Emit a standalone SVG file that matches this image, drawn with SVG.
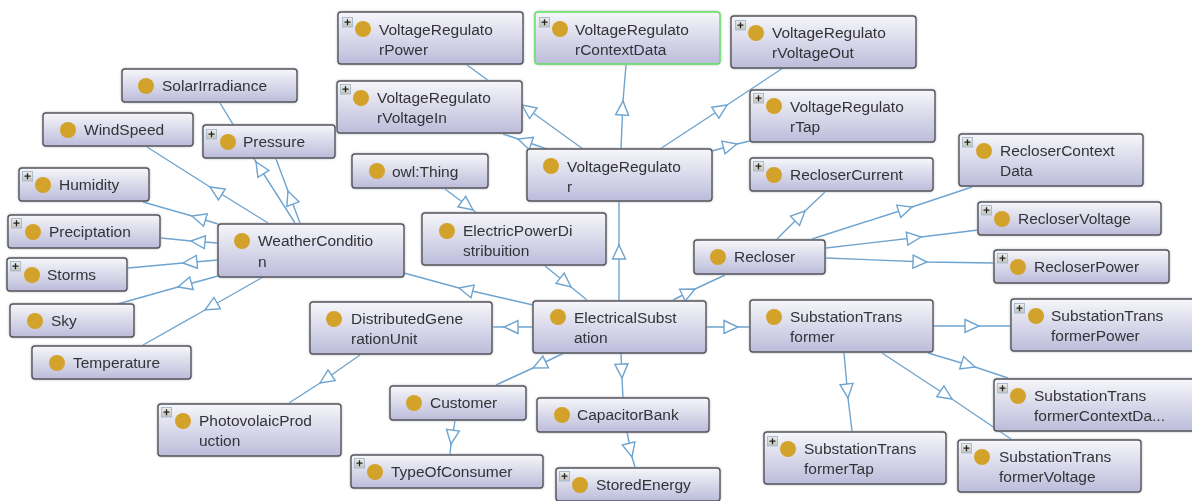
<svg xmlns="http://www.w3.org/2000/svg" width="1192" height="501" viewBox="0 0 1192 501">
<style>
.e{fill:none;stroke:#6ea4cf;stroke-width:1.4;marker-mid:url(#tri)}
.b{fill:url(#g);stroke:#55555c;stroke-width:1.4;filter:drop-shadow(0 0 1px #b0b0b8)}
.sel{stroke:#5be65b}
.d{fill:#d2a22b}
text{font-family:"Liberation Sans",Arial,sans-serif;font-size:15.5px;fill:#333338}
</style>
<defs>
<linearGradient id="g" x1="0" y1="0" x2="0" y2="1"><stop offset="0" stop-color="#f6f6fa"/><stop offset="1" stop-color="#bcbcdb"/></linearGradient>
<linearGradient id="pg" x1="0" y1="0" x2="0" y2="1"><stop offset="0" stop-color="#eeeeee"/><stop offset="1" stop-color="#c2c2b8"/></linearGradient>
<marker id="tri" markerUnits="userSpaceOnUse" markerWidth="18" markerHeight="18" refX="15" refY="9" orient="auto"><path d="M1,2.5 L15,9 L1,15.5 Z" fill="#fff" stroke="#6ea4cf" stroke-width="1.4"/></marker>
<g id="plus"><rect x="0.5" y="0.5" width="10" height="9.5" fill="url(#pg)" stroke="#a9bccd"/><path d="M2.5,5.2H8.5M5.5,2.3V8.2" stroke="#222" stroke-width="1.3"/></g>
<filter id="soft" filterUnits="userSpaceOnUse" x="0" y="0" width="1192" height="501"><feGaussianBlur stdDeviation="0.35"/></filter>
</defs>
<rect width="1192" height="501" fill="#fff"/>
<g filter="url(#soft)">
<g id="connectors">
<polyline class="e" points="583,149 522,105 467,65"/>
<polyline class="e" points="547,149 518,139 503,134"/>
<polyline class="e" points="621,149 623,101 626,65"/>
<polyline class="e" points="660,149 727,105 783,68"/>
<polyline class="e" points="712,151 737,144 750,141"/>
<polyline class="e" points="619,301 619,245 619,201"/>
<polyline class="e" points="445,189 473,210 477,213"/>
<polyline class="e" points="545,266 571,287 587,300"/>
<polyline class="e" points="533,305 459,288 404,273"/>
<polyline class="e" points="533,327 504,327 493,327"/>
<polyline class="e" points="564,353 533,368 496,385"/>
<polyline class="e" points="621,353 622,378 623,398"/>
<polyline class="e" points="673,300 695,289 725,275"/>
<polyline class="e" points="706,327 738,327 750,327"/>
<polyline class="e" points="777,239 805,211 825,192"/>
<polyline class="e" points="812,239 912,207 972,187"/>
<polyline class="e" points="826,248 921,237 978,230"/>
<polyline class="e" points="826,258 927,262 994,263"/>
<polyline class="e" points="933,326 979,326 1012,326"/>
<polyline class="e" points="928,353 975,367 1008,378"/>
<polyline class="e" points="882,353 952,399 1011,439"/>
<polyline class="e" points="844,353 848,398 852,431"/>
<polyline class="e" points="627,432 632,457 635,467"/>
<polyline class="e" points="455,421 451,444 450,454"/>
<polyline class="e" points="360,355 320,383 289,403"/>
<polyline class="e" points="295,223 256,162 220,103"/>
<polyline class="e" points="300,223 288,191 276,159"/>
<polyline class="e" points="268,223 210,187 147,147"/>
<polyline class="e" points="218,224 192,216 143,202"/>
<polyline class="e" points="218,243 191,241 161,238"/>
<polyline class="e" points="218,260 183,263 128,268"/>
<polyline class="e" points="218,276 178,287 107,307"/>
<polyline class="e" points="263,277 205,310 143,345"/>
</g>
<g id="VoltageRegulatorPower"><rect class="b" x="338" y="12" width="185" height="52" rx="3"/><use href="#plus" x="342" y="17"/><circle class="d" cx="363" cy="29" r="8"/><text x="379" y="35">VoltageRegulato</text><text x="379" y="55">rPower</text></g>
<g id="VoltageRegulatorContextData"><rect class="b sel" x="535" y="12" width="185" height="52" rx="3"/><use href="#plus" x="539" y="17"/><circle class="d" cx="560" cy="29" r="8"/><text x="575" y="35">VoltageRegulato</text><text x="575" y="55">rContextData</text></g>
<g id="VoltageRegulatorVoltageOut"><rect class="b" x="731" y="16" width="185" height="52" rx="3"/><use href="#plus" x="735" y="20"/><circle class="d" cx="756" cy="33" r="8"/><text x="772" y="38">VoltageRegulato</text><text x="772" y="58">rVoltageOut</text></g>
<g id="VoltageRegulatorVoltageIn"><rect class="b" x="337" y="81" width="185" height="52" rx="3"/><use href="#plus" x="340" y="84"/><circle class="d" cx="361" cy="98" r="8"/><text x="377" y="103">VoltageRegulato</text><text x="377" y="123">rVoltageIn</text></g>
<g id="VoltageRegulatorTap"><rect class="b" x="750" y="90" width="185" height="52" rx="3"/><use href="#plus" x="753" y="93"/><circle class="d" cx="774" cy="106" r="8"/><text x="790" y="112">VoltageRegulato</text><text x="790" y="132">rTap</text></g>
<g id="VoltageRegulator"><rect class="b" x="527" y="149" width="185" height="52" rx="3"/><circle class="d" cx="551" cy="166" r="8"/><text x="567" y="172">VoltageRegulato</text><text x="567" y="192">r</text></g>
<g id="SolarIrradiance"><rect class="b" x="122" y="69" width="175" height="33" rx="3"/><circle class="d" cx="146" cy="86" r="8"/><text x="162" y="91">SolarIrradiance</text></g>
<g id="WindSpeed"><rect class="b" x="43" y="113" width="150" height="33" rx="3"/><circle class="d" cx="68" cy="130" r="8"/><text x="84" y="135">WindSpeed</text></g>
<g id="Pressure"><rect class="b" x="203" y="125" width="132" height="33" rx="3"/><use href="#plus" x="206" y="129"/><circle class="d" cx="228" cy="142" r="8"/><text x="243" y="147">Pressure</text></g>
<g id="owlThing"><rect class="b" x="352" y="154" width="136" height="34" rx="3"/><circle class="d" cx="377" cy="171" r="8"/><text x="392" y="177">owl:Thing</text></g>
<g id="Humidity"><rect class="b" x="19" y="168" width="130" height="33" rx="3"/><use href="#plus" x="22" y="171"/><circle class="d" cx="43" cy="185" r="8"/><text x="59" y="190">Humidity</text></g>
<g id="Preciptation"><rect class="b" x="8" y="215" width="152" height="33" rx="3"/><use href="#plus" x="11" y="218"/><circle class="d" cx="33" cy="232" r="8"/><text x="49" y="237">Preciptation</text></g>
<g id="Storms"><rect class="b" x="7" y="258" width="120" height="33" rx="3"/><use href="#plus" x="10" y="261"/><circle class="d" cx="32" cy="275" r="8"/><text x="47" y="280">Storms</text></g>
<g id="WeatherCondition"><rect class="b" x="218" y="224" width="186" height="53" rx="3"/><circle class="d" cx="242" cy="241" r="8"/><text x="258" y="246">WeatherConditio</text><text x="258" y="267">n</text></g>
<g id="Sky"><rect class="b" x="10" y="304" width="124" height="33" rx="3"/><circle class="d" cx="35" cy="321" r="8"/><text x="51" y="326">Sky</text></g>
<g id="Temperature"><rect class="b" x="32" y="346" width="159" height="33" rx="3"/><circle class="d" cx="57" cy="363" r="8"/><text x="73" y="368">Temperature</text></g>
<g id="ElectricPowerDistribuition"><rect class="b" x="422" y="213" width="184" height="52" rx="3"/><circle class="d" cx="447" cy="231" r="8"/><text x="463" y="236">ElectricPowerDi</text><text x="463" y="256">stribuition</text></g>
<g id="Recloser"><rect class="b" x="694" y="240" width="131" height="34" rx="3"/><circle class="d" cx="718" cy="257" r="8"/><text x="734" y="262">Recloser</text></g>
<g id="RecloserCurrent"><rect class="b" x="750" y="158" width="183" height="33" rx="3"/><use href="#plus" x="753" y="161"/><circle class="d" cx="774" cy="175" r="8"/><text x="790" y="180">RecloserCurrent</text></g>
<g id="RecloserContextData"><rect class="b" x="959" y="134" width="184" height="52" rx="3"/><use href="#plus" x="962" y="137"/><circle class="d" cx="984" cy="151" r="8"/><text x="1000" y="156">RecloserContext</text><text x="1000" y="176">Data</text></g>
<g id="RecloserVoltage"><rect class="b" x="978" y="202" width="183" height="33" rx="3"/><use href="#plus" x="981" y="205"/><circle class="d" cx="1002" cy="219" r="8"/><text x="1018" y="224">RecloserVoltage</text></g>
<g id="RecloserPower"><rect class="b" x="994" y="250" width="175" height="33" rx="3"/><use href="#plus" x="997" y="253"/><circle class="d" cx="1018" cy="267" r="8"/><text x="1034" y="272">RecloserPower</text></g>
<g id="ElectricalSubstation"><rect class="b" x="533" y="301" width="173" height="52" rx="3"/><circle class="d" cx="558" cy="317" r="8"/><text x="574" y="323">ElectricalSubst</text><text x="574" y="343">ation</text></g>
<g id="SubstationTransformer"><rect class="b" x="750" y="300" width="183" height="52" rx="3"/><circle class="d" cx="774" cy="317" r="8"/><text x="790" y="322">SubstationTrans</text><text x="790" y="342">former</text></g>
<g id="DistributedGenerationUnit"><rect class="b" x="310" y="302" width="182" height="52" rx="3"/><circle class="d" cx="334" cy="319" r="8"/><text x="351" y="324">DistributedGene</text><text x="351" y="344">rationUnit</text></g>
<g id="Customer"><rect class="b" x="390" y="386" width="136" height="34" rx="3"/><circle class="d" cx="414" cy="403" r="8"/><text x="430" y="408">Customer</text></g>
<g id="CapacitorBank"><rect class="b" x="537" y="398" width="172" height="34" rx="3"/><circle class="d" cx="562" cy="415" r="8"/><text x="577" y="420">CapacitorBank</text></g>
<g id="StoredEnergy"><rect class="b" x="556" y="468" width="164" height="33" rx="3"/><use href="#plus" x="559" y="471"/><circle class="d" cx="580" cy="485" r="8"/><text x="596" y="490">StoredEnergy</text></g>
<g id="TypeOfConsumer"><rect class="b" x="351" y="455" width="192" height="33" rx="3"/><use href="#plus" x="354" y="458"/><circle class="d" cx="375" cy="472" r="8"/><text x="391" y="477">TypeOfConsumer</text></g>
<g id="PhotovolaicProduction"><rect class="b" x="158" y="404" width="183" height="52" rx="3"/><use href="#plus" x="161" y="407"/><circle class="d" cx="183" cy="421" r="8"/><text x="199" y="426">PhotovolaicProd</text><text x="199" y="446">uction</text></g>
<g id="SubstationTransformerPower"><rect class="b" x="1011" y="299" width="185" height="52" rx="3"/><use href="#plus" x="1014" y="303"/><circle class="d" cx="1036" cy="316" r="8"/><text x="1051" y="321">SubstationTrans</text><text x="1051" y="341">formerPower</text></g>
<g id="SubstationTransformerContextData"><rect class="b" x="994" y="379" width="202" height="52" rx="3"/><use href="#plus" x="997" y="383"/><circle class="d" cx="1018" cy="396" r="8"/><text x="1034" y="401">SubstationTrans</text><text x="1034" y="421">formerContextDa...</text></g>
<g id="SubstationTransformerVoltage"><rect class="b" x="958" y="440" width="183" height="52" rx="3"/><use href="#plus" x="961" y="443"/><circle class="d" cx="982" cy="457" r="8"/><text x="999" y="462">SubstationTrans</text><text x="999" y="482">formerVoltage</text></g>
<g id="SubstationTransformerTap"><rect class="b" x="764" y="432" width="182" height="52" rx="3"/><use href="#plus" x="767" y="436"/><circle class="d" cx="788" cy="449" r="8"/><text x="804" y="454">SubstationTrans</text><text x="804" y="474">formerTap</text></g>
</g>
</svg>
